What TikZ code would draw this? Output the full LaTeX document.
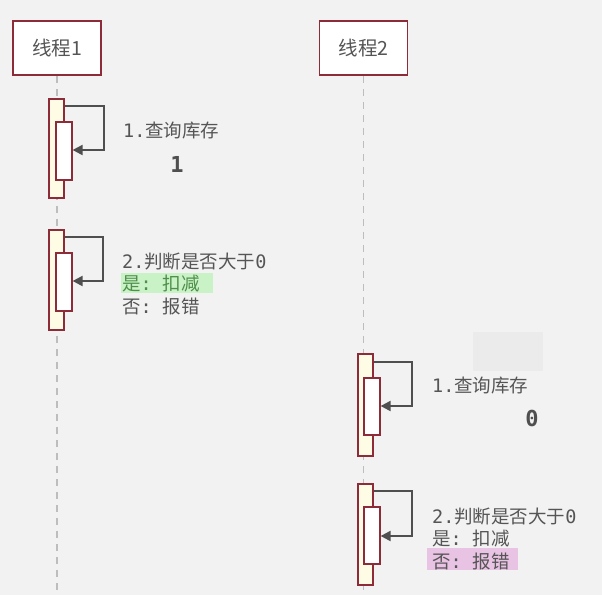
\documentclass[tikz,border=0pt]{standalone}
\usepackage{fontspec}
\setmonofont{DejaVu Sans Mono}
\newfontfamily\cjk{Noto Sans CJK SC}
\usetikzlibrary{arrows.meta}
\newcommand\zh[1]{{\cjk #1}}
\definecolor{bg}{HTML}{F2F2F2}
\definecolor{boxred}{HTML}{8E2B38}
\definecolor{actfill}{HTML}{FFFCE6}
\definecolor{txt}{HTML}{555555}
\definecolor{arr}{HTML}{4F4F4F}
\definecolor{life}{HTML}{BDBDBD}
\definecolor{hlgreen}{HTML}{C9F2C6}
\definecolor{txtgreen}{HTML}{4E8F4A}
\definecolor{hlpink}{HTML}{E9C3E3}
\definecolor{faint}{HTML}{EBEBEB}
\tikzset{
  x=1pt, y=-1pt,
  thread/.style={draw=boxred, line width=1.8pt, fill=white, minimum width=88pt, minimum height=54pt, inner sep=0pt, text=txt, font=\cjk\fontsize{19.5}{22}\selectfont},
  lifeline/.style={draw=life, line width=1.8pt, dash pattern=on 7pt off 6pt},
  outeract/.style={draw=boxred, line width=1.6pt, fill=actfill, minimum width=15pt, inner sep=0pt, anchor=north west},
  inneract/.style={draw=boxred, line width=1.6pt, fill=white, minimum width=16pt, inner sep=0pt, anchor=north west},
  selfarrow/.style={draw=arr, line width=2pt, -{Triangle[length=10pt,width=10pt]}},
  label/.style={anchor=base west, inner sep=0pt, text=txt, font=\ttfamily\fontsize{18.5}{22}\selectfont},
  bignum/.style={anchor=base, inner sep=0pt, text=arr, font=\ttfamily\bfseries\fontsize{22}{26}\selectfont},
  hl/.style={anchor=north west, inner sep=0pt, draw=none}
}
\begin{document}
\begin{tikzpicture}
\fill[bg] (0,0) rectangle (602,595);
\useasboundingbox (0,0) rectangle (602,595);
\fill[faint] (473,332) rectangle (543,371);

% threads
\node[thread] (t1) at (57,48) {线程1};
\node[thread] (t2) at (363.5,48) {线程2};
\coordinate (e1) at (57,590);
\coordinate (e2) at (363.5,590);
\draw[lifeline] (t1.south) -- (e1);
\draw[lifeline] (t2.south) -- (e2);

% thread 1, step 1
\node[outeract, minimum height=99pt] (o1) at (48,98) {};
\node[inneract, minimum height=58pt] (i1) at (55,121) {};
\coordinate (r1a) at (104,106);
\coordinate (r1b) at (104,150);
\draw[selfarrow] (o1.east |- r1a) -- (r1a) -- (r1b) -- (i1.east |- r1b);
\node[label] (l1) at (123,137.5) {1.\zh{查询库存}};
\node[bignum] (n1) at (177,172) {1};

% thread 1, step 2
\node[outeract, minimum height=100pt] (o2) at (48,229) {};
\node[inneract, minimum height=58pt] (i2) at (55,252) {};
\coordinate (r2a) at (103,237);
\coordinate (r2b) at (103,281);
\draw[selfarrow] (o2.east |- r2a) -- (r2a) -- (r2b) -- (i2.east |- r2b);
\node[hl, fill=hlgreen, minimum width=92pt, minimum height=20pt] (g1) at (121,273) {};
\node[label] (l2) at (122,268.5) {2.\zh{判断是否大于}0};
\node[label, text=txtgreen] (l3) at (122,290.5) {\zh{是}: \zh{扣减}};
\node[label] (l4) at (122,313.5) {\zh{否}: \zh{报错}};

% thread 2, step 1
\node[outeract, minimum height=102pt] (o3) at (357,353) {};
\node[inneract, minimum height=57pt] (i3) at (363,377) {};
\coordinate (r3a) at (412,362);
\coordinate (r3b) at (412,406);
\draw[selfarrow] (o3.east |- r3a) -- (r3a) -- (r3b) -- (i3.east |- r3b);
\node[label] (l5) at (432,392.5) {1.\zh{查询库存}};
\node[bignum] (n2) at (532,426) {0};

% thread 2, step 2
\node[outeract, minimum height=101pt] (o4) at (357,483) {};
\node[inneract, minimum height=57pt] (i4) at (363,506) {};
\coordinate (r4a) at (412,491);
\coordinate (r4b) at (412,536);
\draw[selfarrow] (o4.east |- r4a) -- (r4a) -- (r4b) -- (i4.east |- r4b);
\node[hl, fill=hlpink, minimum width=91pt, minimum height=22pt] (p1) at (427,548) {};
\node[label] (l6) at (432,523.5) {2.\zh{判断是否大于}0};
\node[label] (l7) at (432,545.5) {\zh{是}: \zh{扣减}};
\node[label] (l8) at (432,568.5) {\zh{否}: \zh{报错}};
\end{tikzpicture}
\end{document}
